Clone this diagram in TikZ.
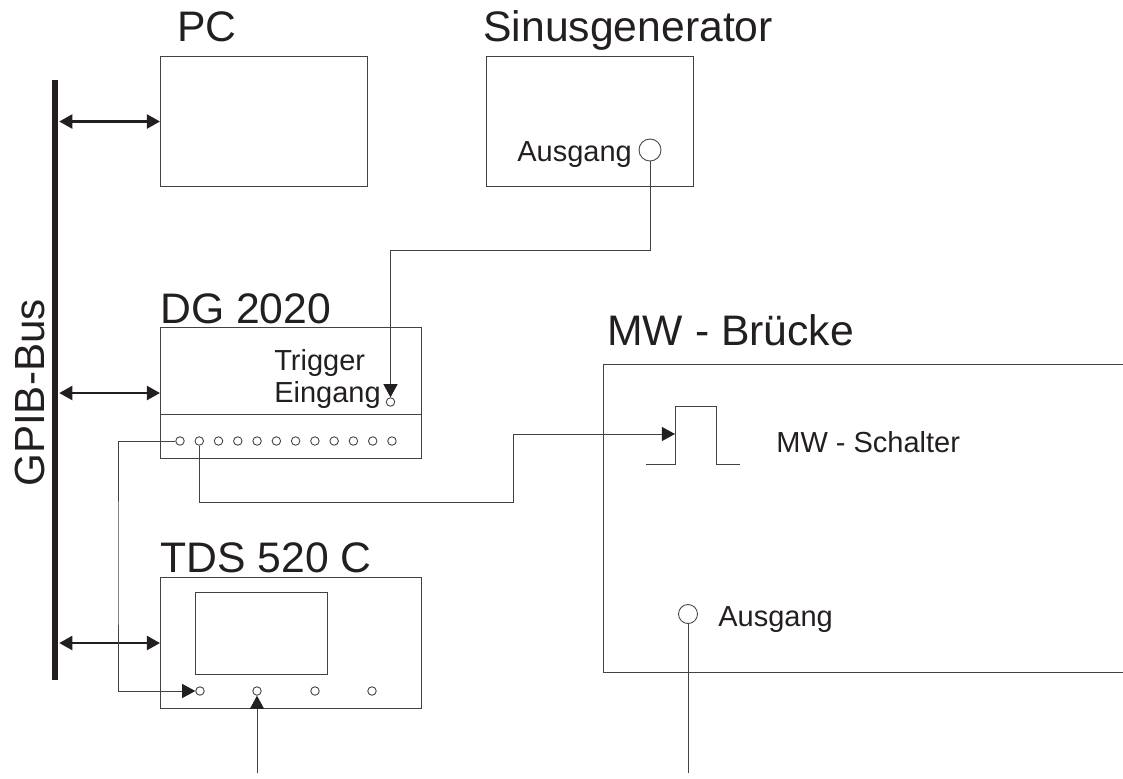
\documentclass[tikz,border=0pt]{standalone}
\usepackage{fontspec}
\setmainfont{Liberation Sans}
\definecolor{LineBlack}{RGB}{35,31,32}
\usetikzlibrary{arrows.meta,positioning}

\tikzset{
  devbox/.style={draw=LineBlack!85,line width=0.6pt,inner sep=0pt,anchor=north west},
  pin/.style={circle,draw=LineBlack!85,fill=white,line width=0.5pt,inner sep=0pt,minimum size=0.17cm},
  titlelab/.style={anchor=base west,inner sep=0pt,text=LineBlack,font=\fontsize{24.3}{26}\selectfont},
  smalllab/.style={anchor=base west,inner sep=0pt,text=LineBlack,font=\fontsize{16.5}{18}\selectfont},
  wire/.style={draw=LineBlack!85,line width=0.55pt},
  sig/.style={wire,-{Triangle[length=7.5pt,width=8pt,color=LineBlack]}},
  buslink/.style={draw=LineBlack,line width=1.35pt,{Triangle[length=7.5pt,width=8pt]}-{Triangle[length=7.5pt,width=8pt]},shorten <=0.5pt}
}

\begin{document}
\begin{tikzpicture}[x=0.02cm,y=-0.02cm]
\useasboundingbox (0,0) rectangle (1123,778);
% bus
\node[fill=LineBlack,inner sep=0pt,minimum width=0.12cm,minimum height=12cm] (bus) at (55,380) {};
\node[rotate=90,inner sep=0pt,text=LineBlack,font=\fontsize{24}{26}\selectfont,anchor=base] (buslab) at (44,393) {GPIB-Bus};
% devices
\node[devbox,minimum width=4.14cm,minimum height=2.6cm] (pc) at (160,56) {};
\node[devbox,minimum width=4.14cm,minimum height=2.6cm] (sin) at (486,56) {};
\node[devbox,minimum width=5.22cm,minimum height=2.62cm] (dg) at (160,327) {};
\node[devbox,minimum width=5.22cm,minimum height=2.62cm] (tds) at (160,577) {};
\node[devbox,minimum width=2.64cm,minimum height=1.64cm] (screen) at (195,592) {};
\draw[wire] (dg.west |- 0,414) -- (dg.east |- 0,414);
% headings
\node[titlelab] (pclab) at (177,41) {PC};
\node[titlelab] (sinlab) at (483,41) {Sinusgenerator};
\node[titlelab] (dglab) at (160,323) {DG 2020};
\node[titlelab] (tdslab) at (160,572) {TDS 520 C};
\node[titlelab] (mwlab) at (607,345) {MW - Brücke};
\node[smalllab] (auslab) at (517,161) {Ausgang};
\node[smalllab] (triglab) at (274,370) {Trigger};
\node[smalllab] (einlab) at (274,402) {Eingang};
\node[smalllab] (schlab) at (776,452) {MW - Schalter};
\node[smalllab] (mwauslab) at (718,626) {Ausgang};
% MW bridge, open to the right
\draw[wire] (1123,364) -- (603,364) -- (603,672) -- (1123,672);
\draw[wire] (646,464) -- (675,464) -- (675,406) -- (716,406) -- (716,464) -- (740,464);
% pins
\node[pin,minimum size=0.44cm] (sinout) at (650,150) {};
\node[pin,minimum size=0.38cm] (mwout) at (688,614) {};
\node[pin] (trigin) at (390.5,402) {};
\foreach \i in {1,...,12}{
  \node[pin] (dgp\i) at ({180+(\i-1)*19.27},441) {};
}
\foreach \i/\x in {1/200,2/257,3/315,4/372}{
  \node[pin] (tdsp\i) at (\x,691) {};
}
\coordinate (trigbend) at (390.5,250);
\coordinate (leftbend) at (118,560);
\coordinate (swbend) at (513,502);
\coordinate (swin) at (675,434);
\coordinate (tdsfree) at (257,773);
\coordinate (mwfree) at (688,773);
% links
\draw[buslink] (bus.east |- pc.west) -- (pc.west);
\draw[buslink] (bus.east |- dg.west) -- (dg.west);
\draw[buslink] (bus.east |- tds.west) -- (tds.west);
\draw[sig] (sinout.south) |- (trigbend) -- (trigin.north);
\draw[sig] (dgp1.west) -| (leftbend) |- (tdsp1.west);
\draw[sig] (dgp2.south) |- (swbend) |- (swin);
\draw[sig] (tdsfree) -- (tdsp2.south);
\draw[wire] (mwout.south) -- (mwfree);
\end{tikzpicture}
\end{document}
